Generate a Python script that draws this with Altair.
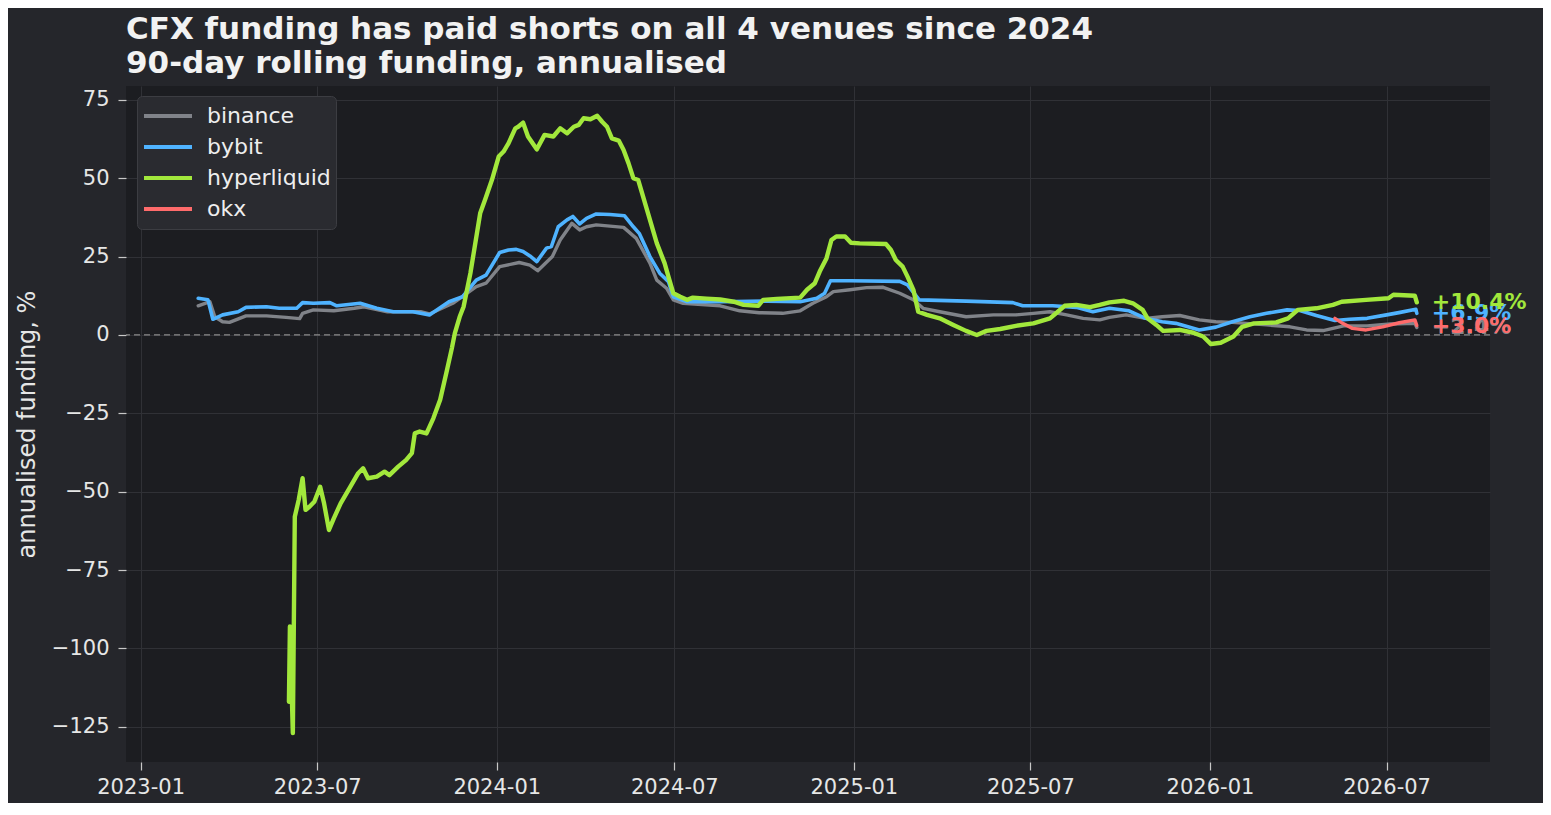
import altair as alt
import pandas as pd

series_names = ["binance", "bybit", "hyperliquid", "okx"]
series_colors = ["#808389", "#4fb3ff", "#a2e83c", "#ff6b6b"]
series_widths = [3.4, 3.6, 4.4, 3.4]

binance_dates = [
    "2023-03-01", "2023-03-13", "2023-03-18", "2023-03-26", "2023-04-02", "2023-04-19",
    "2023-05-10", "2023-05-30", "2023-06-13", "2023-06-16", "2023-06-27", "2023-07-18",
    "2023-08-08", "2023-08-18", "2023-09-11", "2023-10-15", "2023-10-24", "2023-11-17",
    "2023-12-11", "2023-12-21", "2024-01-04", "2024-01-24", "2024-02-04", "2024-02-12",
    "2024-02-27", "2024-03-06", "2024-03-18", "2024-03-26", "2024-04-02", "2024-04-12",
    "2024-05-10", "2024-05-23", "2024-06-06", "2024-06-13", "2024-06-23", "2024-06-30",
    "2024-07-10", "2024-08-17", "2024-09-06", "2024-09-26", "2024-10-20", "2024-11-07",
    "2024-11-20", "2024-12-04", "2024-12-11", "2024-12-28", "2025-01-14", "2025-01-31",
    "2025-02-17", "2025-03-03", "2025-03-13", "2025-03-30", "2025-04-26", "2025-05-24",
    "2025-06-16", "2025-07-04", "2025-07-21", "2025-08-07", "2025-08-24", "2025-09-10",
    "2025-09-20", "2025-10-07", "2025-10-27", "2025-11-13", "2025-12-01", "2025-12-21",
    "2026-01-07", "2026-01-24", "2026-02-28", "2026-03-24", "2026-04-10", "2026-04-27",
    "2026-05-18", "2026-06-11", "2026-07-05", "2026-07-30", "2026-08-01",
]
binance_vals = [
    9.3, 10.6, 5.8, 4.2, 4.0, 6.1,
    6.1, 5.6, 5.2, 6.9, 8.0, 7.7,
    8.5, 9.0, 7.4, 7.4, 6.7, 10.1,
    15.4, 16.5, 21.8, 23.1, 22.3, 20.5,
    25.0, 30.3, 35.6, 33.5, 34.5, 35.1,
    34.3, 30.8, 22.9, 17.5, 14.9, 11.2,
    10.1, 9.3, 7.7, 7.1, 6.9, 7.7,
    10.1, 12.2, 13.8, 14.4, 15.1, 15.2,
    13.3, 11.2, 8.5, 7.4, 5.8, 6.4,
    6.4, 6.9, 7.4, 6.4, 5.3, 4.8,
    5.6, 6.4, 5.3, 5.8, 6.2, 4.8,
    4.2, 4.0, 3.2, 2.6, 1.6, 1.4,
    2.9, 2.9, 3.5, 3.7, 2.4,
]

bybit_dates = [
    "2023-03-01", "2023-03-11", "2023-03-16", "2023-03-26", "2023-04-11", "2023-04-19",
    "2023-05-10", "2023-05-23", "2023-06-10", "2023-06-16", "2023-06-27", "2023-07-14",
    "2023-07-21", "2023-08-14", "2023-08-31", "2023-09-17", "2023-10-07", "2023-10-24",
    "2023-11-13", "2023-11-27", "2023-12-11", "2023-12-21", "2024-01-04", "2024-01-13",
    "2024-01-21", "2024-01-28", "2024-02-04", "2024-02-11", "2024-02-21", "2024-02-26",
    "2024-03-04", "2024-03-13", "2024-03-19", "2024-03-26", "2024-04-02", "2024-04-12",
    "2024-04-26", "2024-05-11", "2024-05-20", "2024-05-26", "2024-06-06", "2024-06-16",
    "2024-06-25", "2024-06-30", "2024-07-14", "2024-08-17", "2024-10-04", "2024-11-07",
    "2024-11-24", "2024-12-02", "2024-12-08", "2024-12-28", "2025-02-17", "2025-02-25",
    "2025-03-09", "2025-04-26", "2025-06-13", "2025-06-23", "2025-07-24", "2025-08-17",
    "2025-09-03", "2025-09-20", "2025-10-10", "2025-10-27", "2025-11-13", "2025-11-27",
    "2025-12-21", "2026-01-07", "2026-01-24", "2026-02-11", "2026-02-28", "2026-03-21",
    "2026-04-03", "2026-04-20", "2026-05-09", "2026-05-24", "2026-06-11", "2026-07-01",
    "2026-07-15", "2026-07-31", "2026-08-01",
]
bybit_vals = [
    11.7, 11.2, 5.0, 6.4, 7.4, 8.8,
    9.0, 8.5, 8.5, 10.3, 10.1, 10.3,
    9.3, 10.1, 8.5, 7.4, 7.4, 6.4,
    10.6, 12.2, 17.5, 19.1, 26.3, 27.1,
    27.3, 26.6, 25.2, 23.4, 27.7, 28.2,
    34.5, 36.7, 37.8, 35.4, 37.2, 38.6,
    38.4, 38.0, 34.5, 32.4, 25.0, 19.7,
    17.0, 12.2, 10.6, 10.6, 10.8, 10.6,
    11.7, 13.3, 17.3, 17.3, 17.1, 16.0,
    11.2, 10.8, 10.3, 9.3, 9.3, 8.8,
    7.4, 8.5, 7.7, 5.3, 4.2, 3.7,
    1.6, 2.5, 4.2, 5.8, 6.9, 8.0,
    7.8, 6.2, 4.6, 5.0, 5.3, 6.4,
    7.2, 8.2, 6.9,
]

hyperliquid_dates = [
    "2023-06-02", "2023-06-03", "2023-06-06", "2023-06-08", "2023-06-12", "2023-06-16",
    "2023-06-19", "2023-06-23", "2023-06-28", "2023-07-04", "2023-07-08", "2023-07-13",
    "2023-07-18", "2023-07-25", "2023-08-04", "2023-08-12", "2023-08-17", "2023-08-22",
    "2023-08-31", "2023-09-08", "2023-09-13", "2023-09-22", "2023-09-30", "2023-10-06",
    "2023-10-09", "2023-10-14", "2023-10-21", "2023-10-28", "2023-11-04", "2023-11-11",
    "2023-11-16", "2023-11-19", "2023-11-24", "2023-11-28", "2023-12-05", "2023-12-15",
    "2023-12-20", "2023-12-27", "2024-01-03", "2024-01-08", "2024-01-13", "2024-01-20",
    "2024-01-23", "2024-01-28", "2024-02-02", "2024-02-11", "2024-02-19", "2024-02-28",
    "2024-03-06", "2024-03-13", "2024-03-20", "2024-03-25", "2024-03-30", "2024-04-06",
    "2024-04-13", "2024-04-18", "2024-04-23", "2024-04-28", "2024-05-05", "2024-05-10",
    "2024-05-15", "2024-05-20", "2024-05-25", "2024-05-30", "2024-06-06", "2024-06-13",
    "2024-06-21", "2024-06-26", "2024-06-30", "2024-07-07", "2024-07-14", "2024-07-20",
    "2024-08-03", "2024-08-17", "2024-08-31", "2024-09-10", "2024-09-25", "2024-09-30",
    "2024-10-14", "2024-11-07", "2024-11-14", "2024-11-22", "2024-11-27", "2024-12-04",
    "2024-12-09", "2024-12-14", "2024-12-23", "2024-12-29", "2025-01-07", "2025-02-03",
    "2025-02-08", "2025-02-13", "2025-02-20", "2025-02-25", "2025-03-03", "2025-03-08",
    "2025-03-17", "2025-03-30", "2025-04-13", "2025-04-26", "2025-05-07", "2025-05-17",
    "2025-05-31", "2025-06-16", "2025-07-04", "2025-07-21", "2025-07-29", "2025-08-05",
    "2025-08-17", "2025-08-31", "2025-09-10", "2025-09-20", "2025-10-05", "2025-10-14",
    "2025-10-24", "2025-10-29", "2025-11-07", "2025-11-14", "2025-12-01", "2025-12-15",
    "2025-12-25", "2026-01-02", "2026-01-12", "2026-01-25", "2026-02-03", "2026-02-15",
    "2026-03-10", "2026-03-22", "2026-04-01", "2026-04-20", "2026-05-07", "2026-05-16",
    "2026-06-10", "2026-07-03", "2026-07-08", "2026-07-30", "2026-08-01",
]
hyperliquid_vals = [
    -117.0, -93.0, -127.0, -58.0, -52.6, -45.7,
    -55.8, -54.8, -53.2, -48.4, -53.7, -62.2,
    -58.5, -53.7, -48.4, -44.1, -42.5, -45.7,
    -45.2, -43.6, -44.7, -42.0, -39.9, -37.7,
    -31.4, -30.8, -31.4, -26.6, -20.7, -11.2,
    -4.2, 0.5, 5.8, 9.0, 19.7, 38.8,
    43.1, 49.4, 56.9, 58.5, 61.1, 65.9,
    66.4, 67.7, 63.3, 59.2, 63.8, 63.3,
    65.9, 64.3, 66.4, 67.0, 69.1, 68.8,
    69.9, 68.0, 66.4, 62.7, 62.0, 59.0,
    54.8, 50.0, 49.4, 44.1, 36.7, 29.3,
    22.9, 17.5, 13.3, 12.2, 11.2, 11.9,
    11.6, 11.3, 10.6, 9.6, 9.3, 11.2,
    11.5, 11.9, 14.4, 16.5, 20.2, 24.5,
    30.3, 31.4, 31.4, 29.4, 29.2, 29.0,
    27.1, 23.9, 21.8, 18.6, 14.4, 7.4,
    6.4, 5.3, 3.2, 1.3, 0.0, 1.3,
    1.9, 2.9, 3.7, 5.3, 7.4, 9.3,
    9.6, 8.9, 9.6, 10.4, 10.9, 10.1,
    8.0, 5.3, 3.2, 1.3, 1.6, 0.7,
    -0.5, -2.9, -2.5, -0.5, 2.6, 3.7,
    4.0, 5.3, 8.0, 8.5, 9.6, 10.6,
    11.2, 11.7, 12.8, 12.5, 10.4,
]

okx_dates = [
    "2026-05-09", "2026-05-17", "2026-05-27", "2026-06-10", "2026-06-27", "2026-07-14",
    "2026-07-30", "2026-08-01",
]
okx_vals = [5.3, 3.7, 2.1, 1.6, 2.6, 3.9, 4.8, 3.0]

x_domain = ["2022-12-17", "2026-10-15"]
y_domain = [-136.2, 79.4]
y_ticks = [-125, -100, -75, -50, -25, 0, 25, 50, 75]

title_lines = [
    "CFX funding has paid shorts on all 4 venues since 2024",
    "90-day rolling funding, annualised",
]
y_title = "annualised funding, %"

all_dates = [binance_dates, bybit_dates, hyperliquid_dates, okx_dates]
all_vals = [binance_vals, bybit_vals, hyperliquid_vals, okx_vals]

frames = []
labels = []
for name, w, d, v in zip(series_names, series_widths, all_dates, all_vals):
    frames.append(pd.DataFrame({"series": name, "w": w, "date": d, "value": v}))
    labels.append({"series": name, "date": d[-1], "value": v[-1], "label": f"{v[-1]:+.1f}%"})
df = pd.concat(frames, ignore_index=True)
lab = pd.DataFrame(labels)

FONT = "DejaVu Sans"

color_scale = alt.Scale(domain=series_names, range=series_colors)
x_enc = alt.X(
    "date:T",
    scale=alt.Scale(type="utc", domain=x_domain, nice=False),
    axis=alt.Axis(
        title=None,
        format="%Y-%m",
        tickCount={"interval": "month", "step": 6},
        labelFlush=False,
        labelOverlap=False,
        labelPadding=6,
    ),
)
y_enc = alt.Y(
    "value:Q",
    scale=alt.Scale(domain=y_domain, nice=False, zero=False),
    axis=alt.Axis(
        title=y_title,
        values=y_ticks,
        labelPadding=9,
        titlePadding=12,
        titleFontSize=24,
        titleFontWeight="normal",
        titleColor="#e6e6e6",
        titleFont=FONT,
    ),
)

zero = alt.Chart(pd.DataFrame({"z": [0]})).mark_rule(
    color="#8a8a8a", strokeDash=[6, 4], strokeWidth=1.3
).encode(y=alt.Y("z:Q", scale=alt.Scale(domain=y_domain, nice=False, zero=False)))

lines = alt.Chart(df).mark_line(strokeJoin="round", strokeCap="round").encode(
    x=x_enc,
    y=y_enc,
    color=alt.Color(
        "series:N",
        scale=color_scale,
        legend=alt.Legend(
            title=None,
            orient="none",
            legendX=11,
            legendY=10,
            symbolType="stroke",
            symbolSize=2304,
            symbolStrokeWidth=3.8,
            labelFontSize=22,
            labelFont=FONT,
            labelColor="#eeeeee",
            labelOffset=13,
            fillColor="#2a2b30",
            strokeColor="#3c3d42",
            cornerRadius=5,
            padding=5,
            clipHeight=30,
            rowPadding=1,
        ),
    ),
    size=alt.Size("w:Q", scale=None),
)

end_labels = alt.Chart(lab).mark_text(
    align="left", baseline="middle", dx=15, fontSize=22, fontWeight="bold", font=FONT
).encode(
    x="date:T",
    y="value:Q",
    text="label:N",
    color=alt.Color("series:N", scale=color_scale, legend=None),
)

chart = (
    alt.layer(zero, lines, end_labels)
    .properties(
        width=1364,
        height=676,
        autosize=alt.AutoSizeParams(type="none"),
        padding={"left": 118, "top": 78, "right": 53, "bottom": 41},
        title=alt.TitleParams(
            text=title_lines,
            anchor="start",
            frame="group",
            fontSize=31,
            font=FONT,
            fontWeight="bold",
            color="#f2f2f2",
            lineHeight=34,
            offset=6,
        ),
    )
    .configure(background="#25262b")
    .configure_view(fill="#1c1d21", stroke=None)
    .configure_axis(
        grid=True,
        gridColor="#303136",
        gridWidth=1,
        domain=False,
        tickColor="#c8c8c8",
        tickSize=8,
        tickWidth=1.2,
        labelColor="#e6e6e6",
        labelFont=FONT,
        labelFontSize=21,
    )
)

chart.save("out.html", embed_options={"renderer": "svg", "actions": False})
